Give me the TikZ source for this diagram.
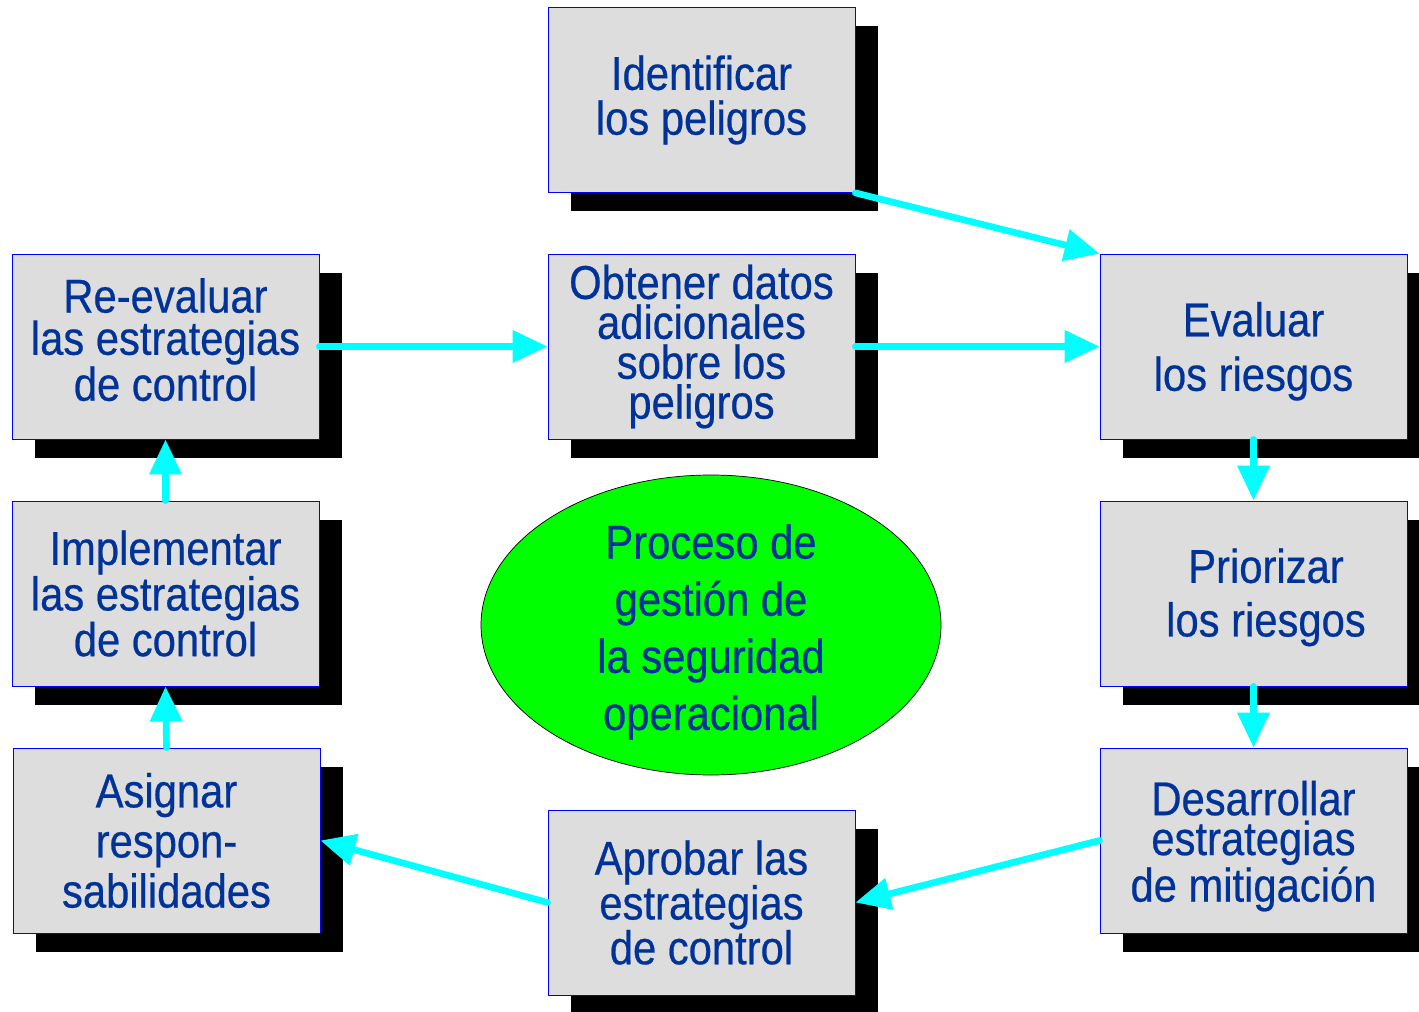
\documentclass[tikz,border=0pt]{standalone}
\usepackage{fontspec}
\setmainfont{Liberation Sans}[FakeStretch=0.88, FakeBold=0.5]
\usetikzlibrary{arrows.meta,shapes.geometric,shadows}
\definecolor{textblue}{RGB}{0,51,153}
\definecolor{boxgray}{RGB}{221,221,221}
\definecolor{flowcyan}{RGB}{0,255,255}
\definecolor{hubgreen}{RGB}{0,255,0}
% struts to nudge the text block inside a box
\newcommand{\toppad}[1]{\rule{0pt}{#1}}
\newcommand{\botpad}[1]{\rule[-#1]{0pt}{#1}}

\begin{document}
\begin{tikzpicture}[
    % Styles
    riskbox/.style={draw=blue, line width=0.45pt, fill=boxgray,
        minimum width=6.14cm, minimum height=3.7cm, inner sep=0pt,
        align=center, text=textblue, font={\fontsize{27}{#1}\selectfont},
        drop shadow={shadow xshift=0.46cm, shadow yshift=-0.38cm, opacity=1, fill=black}},
    riskbox/.default=26,
    flow/.style={-{Triangle[length=0.7cm, width=0.62cm]}, line width=3.8pt,
        flowcyan, line cap=round}
]
\useasboundingbox (0,0) rectangle (28.38,20.22);

% --- Top and middle row ---
\node[riskbox=25.5] (identify) at (14.03, 18.22) {Identificar\\los peligros};
\node[riskbox=24] (reevaluate) at (3.31, 13.29) {Re-evaluar\\las estrategias\\de control\botpad{8pt}};
\node[riskbox=22.7] (obtain) at (14.03, 13.29) {Obtener datos\\adicionales\\sobre los\\peligros};
\node[riskbox=31] (evaluate) at (25.07, 13.29) {\toppad{25pt}Evaluar\\los riesgos};

% --- Side columns ---
\node[riskbox=26] (implement) at (3.31, 8.35) {Implementar\\las estrategias\\de control};
\node[riskbox=30.5] (prioritize) at (25.07, 8.35) {\toppad{24pt}\hspace{0.5cm}Priorizar\\\hspace{0.5cm}los riesgos};
\node[riskbox=28.5] (assign) at (3.33, 3.41) {Asignar\\respon-\\sabilidades};
\node[riskbox=22.7] (develop) at (25.07, 3.41) {\toppad{26pt}Desarrollar\\estrategias\\de mitigación};

% --- Bottom row ---
\node[riskbox=25.5] (approve) at (14.03, 2.17) {Aprobar las\\estrategias\\de control};

% --- Centre ellipse ---
\node[ellipse, draw=black, line width=0.4pt, fill=hubgreen, minimum width=9.2cm,
    minimum height=6.0cm, inner sep=-12pt, align=center, text=textblue,
    font={\fontsize{27}{32.5}\selectfont}] (process) at (14.22, 7.72)
    {\toppad{27.5pt}Proceso de\\gestión de\\la seguridad\\operacional};

% --- Cycle arrows ---
\draw[flow] (identify.south east) -- (evaluate.north west);
\draw[flow] (reevaluate.east) -- (obtain.west);
\draw[flow] (obtain.east) -- (evaluate.west);
\draw[flow] (evaluate.south) -- (prioritize.north);
\draw[flow] (prioritize.south) -- (develop.north);
\draw[flow] (develop.west) -- (approve.east);
\draw[flow] (approve.west) -- (assign.east);
\draw[flow] (assign.north) -- (implement.south);
\draw[flow] (implement.north) -- (reevaluate.south);

\end{tikzpicture}
\end{document}
